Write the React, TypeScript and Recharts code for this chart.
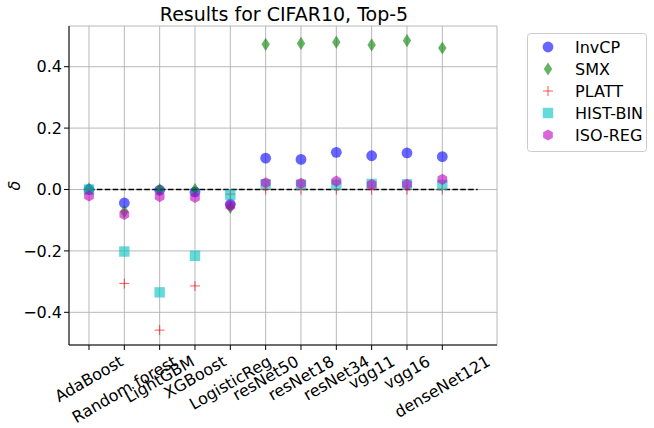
import React from "react";
import { ScatterChart, Scatter, XAxis, YAxis, CartesianGrid, ReferenceLine } from "recharts";

const categories = ["AdaBoost", "Random forest", "LightGBM", "XGBoost", "LogisticReg", "resNet50", "resNet18", "resNet34", "vgg11", "vgg16", "denseNet121"];
const invcp = [0.0, -0.044, -0.002, -0.008, -0.048, 0.102, 0.098, 0.121, 0.110, 0.119, 0.107];
const smx = [0.002, -0.072, 0.0, 0.0, -0.058, 0.473, 0.476, 0.480, 0.471, 0.485, 0.461];
const platt = [0.0, -0.306, -0.458, -0.314, -0.015, 0.0, 0.0, 0.0, 0.0, 0.0, 0.0];
const histbin = [0.0, -0.202, -0.335, -0.216, -0.017, 0.017, 0.016, 0.015, 0.018, 0.017, 0.015];
const isoreg = [-0.021, -0.081, -0.023, -0.026, -0.053, 0.022, 0.020, 0.027, 0.016, 0.017, 0.033];
const seriesNames = ["InvCP", "SMX", "PLATT", "HIST-BIN", "ISO-REG"];
const yTicks = [-0.4, -0.2, 0.0, 0.2, 0.4];
const zeroLineX = [0, 11];
const title = "Results for CIFAR10, Top-5";
const yLabel = "δ";

const FONT = "'DejaVu Sans', sans-serif";
const ALPHA = 0.6;
const FS = 16;

const toPoints = (vals: number[]) => vals.map((v, i) => ({ x: i, y: v }));

type MarkerKind = "circle" | "diamond" | "plus" | "square" | "hex";

function marker(kind: MarkerKind, cx: number, cy: number, color: string, key?: any) {
  if (kind === "circle") return <circle key={key} cx={cx} cy={cy} r={5.4} fill={color} fillOpacity={ALPHA} />;
  if (kind === "diamond") {
    const hw = 4.2, hh = 6.6;
    return <polygon key={key} points={`${cx},${cy - hh} ${cx + hw},${cy} ${cx},${cy + hh} ${cx - hw},${cy}`} fill={color} fillOpacity={ALPHA} />;
  }
  if (kind === "plus") {
    const s = 5;
    return (
      <g key={key} stroke={color} strokeOpacity={ALPHA} strokeWidth={1.1}>
        <line x1={cx - s} y1={cy} x2={cx + s} y2={cy} />
        <line x1={cx} y1={cy - s} x2={cx} y2={cy + s} />
      </g>
    );
  }
  if (kind === "square") {
    const s = 5.2;
    return <rect key={key} x={cx - s} y={cy - s} width={2 * s} height={2 * s} fill={color} fillOpacity={ALPHA} />;
  }
  const r = 5.6;
  const pts = [0, 1, 2, 3, 4, 5].map((k) => {
    const a = -Math.PI / 2 + (k * Math.PI) / 3;
    return `${cx + r * Math.cos(a)},${cy + r * Math.sin(a)}`;
  }).join(" ");
  return <polygon key={key} points={pts} fill={color} fillOpacity={ALPHA} />;
}

const seriesStyle: { kind: MarkerKind; color: string }[] = [
  { kind: "circle", color: "#0000ff" },
  { kind: "diamond", color: "#008000" },
  { kind: "plus", color: "#ff0000" },
  { kind: "square", color: "#00bfbf" },
  { kind: "hex", color: "#bf00bf" },
];
const seriesData = [invcp, smx, platt, histbin, isoreg];

let ctx: CanvasRenderingContext2D | null = null;
function measure(text: string, fs: number) {
  if (!ctx) ctx = document.createElement("canvas").getContext("2d");
  if (!ctx) return text.length * fs * 0.6;
  ctx.font = `${fs}px 'DejaVu Sans'`;
  return ctx.measureText(text).width;
}

const XTick = (props: any) => {
  const { x, y, payload } = props;
  const label = categories[payload.value];
  if (label === undefined) return null;
  const fs = FS;
  const w = measure(label, fs);
  const h = fs * 1.0;
  const s = Math.sin(Math.PI / 6), c = Math.cos(Math.PI / 6);
  const bboxH = w * s + h * c;
  const cy = y + 1 + bboxH / 2;
  return (
    <text x={x} y={cy} textAnchor="middle" dominantBaseline="central" fontSize={fs} fontFamily={FONT} fill="#000" transform={`rotate(-30, ${x}, ${cy})`}>
      {label}
    </text>
  );
};

const fmtY = (v: number) => (v < 0 ? "\u2212" + Math.abs(v).toFixed(1) : v.toFixed(1));

export default function App() {
  const xDomain: [number, number] = [-0.566, 11.548];
  const yDomain: [number, number] = [-0.5065, 0.5326];
  return (
    <div style={{ position: "absolute", left: 0, top: 0, width: 654, height: 428, background: "#fff" }}>
      <ScatterChart width={654} height={428} margin={{ top: 26, right: 157, bottom: 0, left: 0 }}>
        <CartesianGrid stroke="#b0b0b0" strokeWidth={0.9} />
        <XAxis
          type="number"
          dataKey="x"
          domain={xDomain}
          ticks={categories.map((_, i) => i)}
          interval={0}
          allowDataOverflow
          height={83}
          tick={<XTick />}
          tickSize={5}
          tickLine={{ stroke: "#000" }}
          axisLine={{ stroke: "#000" }}
        />
        <XAxis xAxisId="top" orientation="top" type="number" domain={xDomain} allowDataOverflow height={0} tick={false} tickLine={false} axisLine={{ stroke: "#000" }} />
        <YAxis
          type="number"
          dataKey="y"
          domain={yDomain}
          ticks={yTicks}
          allowDataOverflow
          width={69}
          tickFormatter={fmtY}
          tick={{ fontSize: FS, fontFamily: FONT, fill: "#000" }}
          tickSize={5}
          tickLine={{ stroke: "#000" }}
          axisLine={{ stroke: "#000" }}
        />
        <YAxis yAxisId="right" orientation="right" type="number" domain={yDomain} allowDataOverflow width={0} tick={false} tickLine={false} axisLine={{ stroke: "#000" }} />
        {seriesData.map((vals, si) => (
          <Scatter
            key={seriesNames[si]}
            name={seriesNames[si]}
            data={toPoints(vals)}
            isAnimationActive={false}
            shape={(p: any) => marker(seriesStyle[si].kind, p.cx, p.cy, seriesStyle[si].color)}
          />
        ))}
        <ReferenceLine
          segment={[{ x: zeroLineX[0], y: 0 }, { x: zeroLineX[1], y: 0 }]}
          stroke="#000"
          strokeWidth={1.5}
          strokeDasharray="5.5 2.4"
        />
      </ScatterChart>
      <svg width={654} height={428} style={{ position: "absolute", left: 0, top: 0, pointerEvents: "none" }}>
        <text x={284} y={21} textAnchor="middle" fontSize={19} fontFamily={FONT} fill="#000">{title}</text>
        <text x={14} y={185.5} textAnchor="middle" dominantBaseline="central" fontSize={FS} fontStyle="italic" fontFamily={FONT} fill="#000" transform="rotate(-90, 14, 185.5)">{yLabel}</text>
        <g>
          <rect x={527.5} y={33.5} width={119} height={118} rx={3} fill="#fff" fillOpacity={0.8} stroke="#cccccc" strokeWidth={1} />
          {seriesNames.map((n, i) => {
            const cy = 47 + i * 22;
            return (
              <g key={n}>
                {marker(seriesStyle[i].kind, 548, cy, seriesStyle[i].color)}
                <text x={575} y={cy} dominantBaseline="central" fontSize={FS} fontFamily={FONT} fill="#000">{n}</text>
              </g>
            );
          })}
        </g>
      </svg>
    </div>
  );
}
